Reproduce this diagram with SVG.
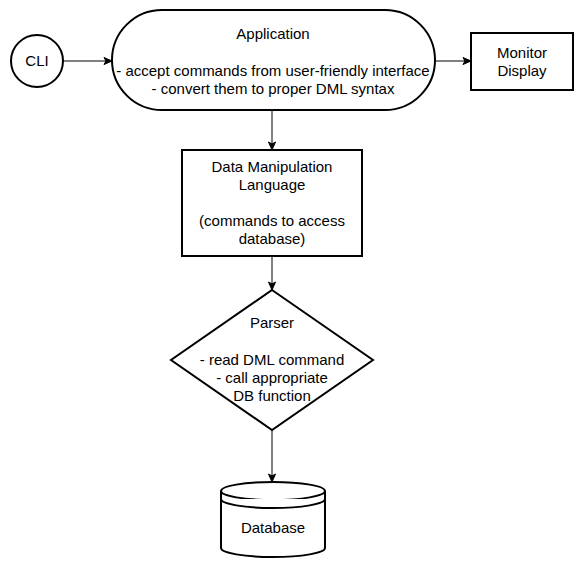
<svg xmlns="http://www.w3.org/2000/svg" width="584" height="568" viewBox="0 0 584 568">
<defs>
<marker id="arr" markerUnits="userSpaceOnUse" markerWidth="10" markerHeight="10" viewBox="0 0 10 10" refX="9" refY="5" orient="auto">
<path d="M1,1.5 L9,5 L1,8.5 L3,5 Z" fill="#000" stroke="#000" stroke-width="1"/>
</marker>
</defs>
<style>
.s{fill:#fff;stroke:#000;stroke-width:2}
.c{fill:none;stroke:#000;stroke-width:1;marker-end:url(#arr)}
text{font-family:"Liberation Sans",Arial,sans-serif;font-size:15px;fill:#000;text-anchor:middle}
</style>
<rect width="584" height="568" fill="#fff"/>
<g id="connectors">
<path class="c" d="M63,61 L112,61"/>
<path class="c" d="M435,61 L471,61"/>
<path class="c" d="M272,110 L272,150"/>
<path class="c" d="M272,256 L272,290"/>
<path class="c" d="M272,430 L272,482"/>
</g>
<g id="cli">
<circle class="s" cx="37" cy="61" r="26"/>
<text x="37" y="66">CLI</text>
</g>
<g id="application">
<rect class="s" x="112" y="10" width="323" height="100" rx="50" ry="50"/>
<text x="273" y="39">Application</text>
<text x="273" y="76">- accept commands from user-friendly interface</text>
<text x="273" y="94">- convert them to proper DML syntax</text>
</g>
<g id="monitor">
<rect class="s" x="471" y="33" width="102" height="57"/>
<text x="522" y="58">Monitor</text>
<text x="522" y="76">Display</text>
</g>
<g id="dml">
<rect class="s" x="182" y="150" width="180" height="106"/>
<text x="272" y="172">Data Manipulation</text>
<text x="272" y="190">Language</text>
<text x="272" y="226">(commands to access</text>
<text x="272" y="244">database)</text>
</g>
<g id="parser">
<polygon class="s" points="272,290 373,360 272,430 171,360"/>
<text x="272" y="328">Parser</text>
<text x="272" y="365">- read DML command</text>
<text x="272" y="383">- call appropriate</text>
<text x="272" y="401">DB function</text>
</g>
<g id="database">
<path class="s" d="M221,491 A52,9 0 0 1 325,491 L325,548 A52,9 0 0 1 221,548 Z"/>
<path class="s" fill="none" d="M221,491 A52,9 0 0 0 325,491"/>
<path class="s" fill="none" d="M221,499 A52,9 0 0 0 325,499"/>
<text x="273" y="533">Database</text>
</g>
</svg>
